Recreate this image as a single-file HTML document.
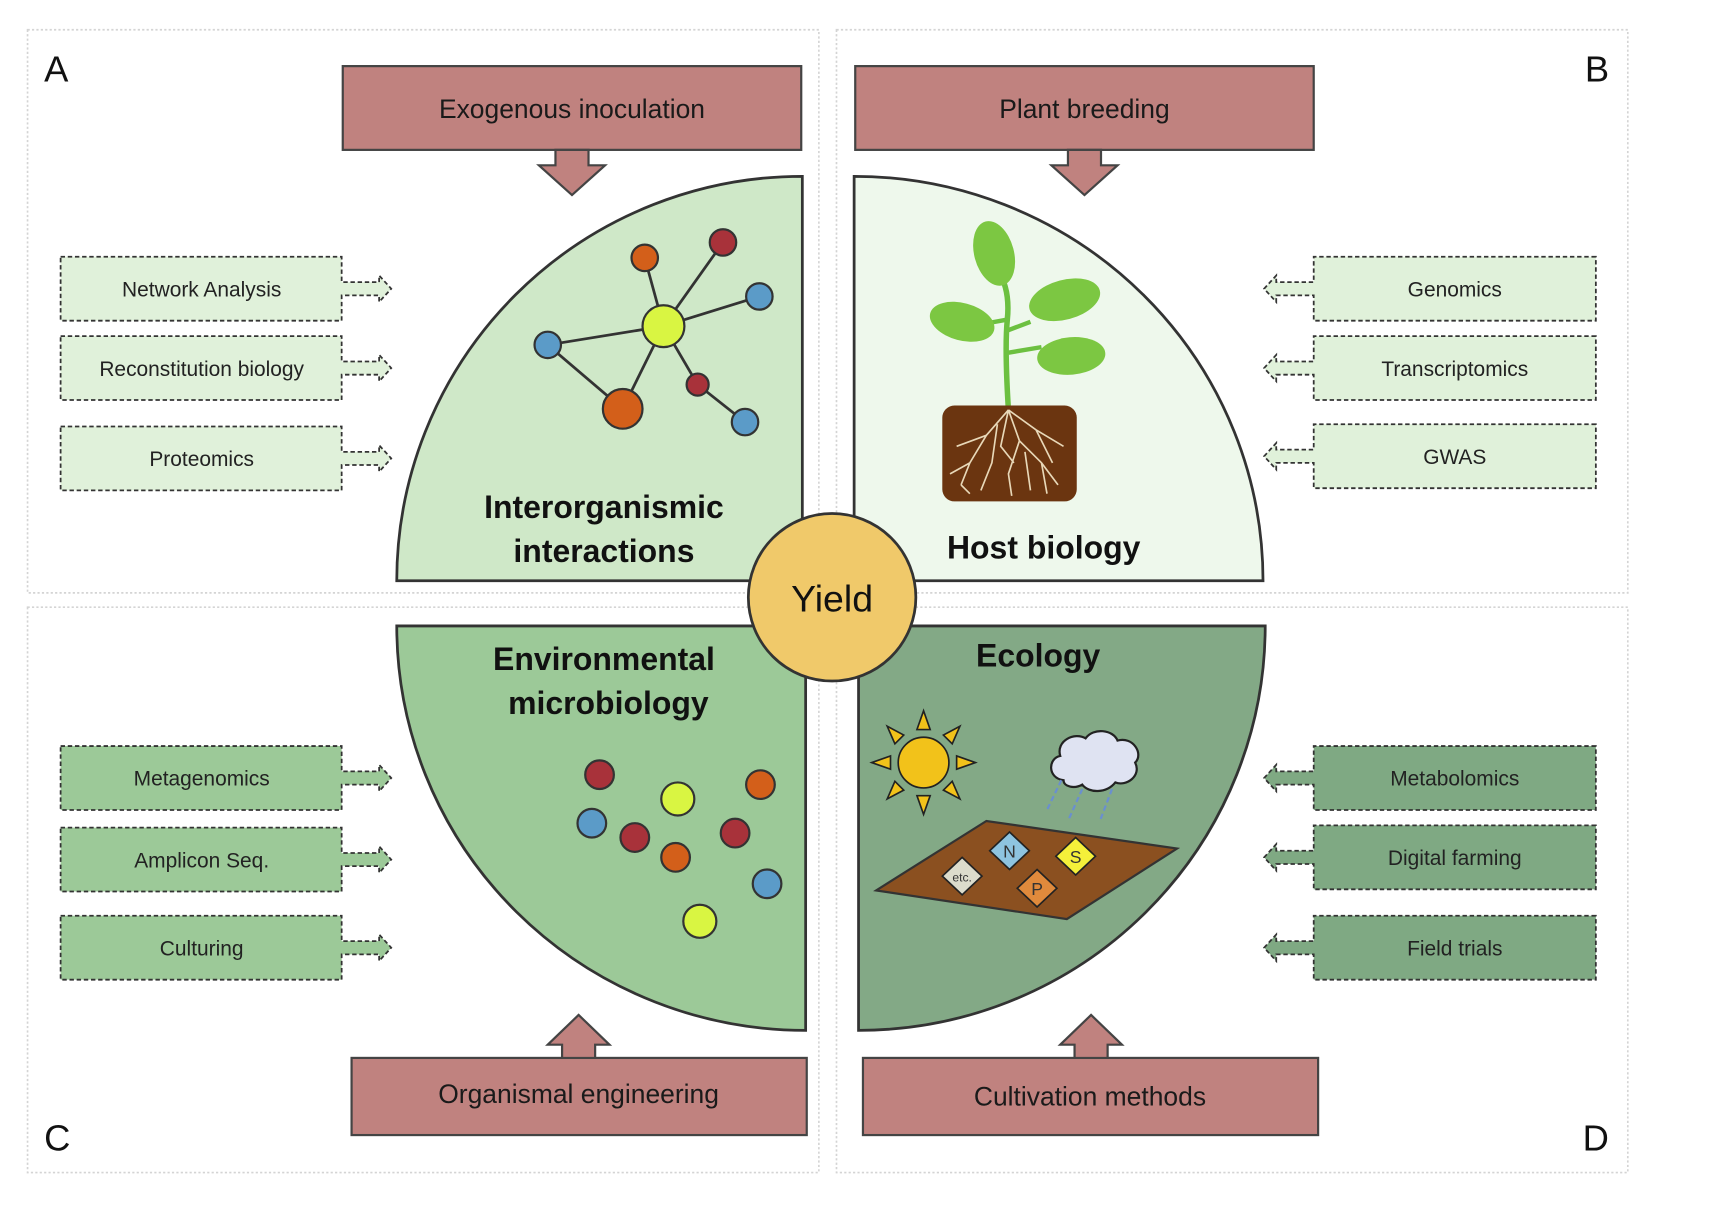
<!DOCTYPE html>
<html><head><meta charset="utf-8"><style>
html,body{margin:0;padding:0;background:#fff;}
svg{display:block;}
text{font-family:"Liberation Sans","DejaVu Sans",sans-serif;}
</style></head><body>
<svg width="1727" height="1210" viewBox="0 0 1567 1098" preserveAspectRatio="none" xmlns="http://www.w3.org/2000/svg">
<rect width="1567" height="1098" fill="#fff"/>
<g fill="none" stroke="#d4d4d4" stroke-width="1.5" stroke-dasharray="2,2">
<rect x="25" y="27" width="718" height="511"/>
<rect x="759" y="27" width="718" height="511"/>
<rect x="25" y="551" width="718" height="513"/>
<rect x="759" y="551" width="718" height="513"/>
</g>
<g font-size="33" fill="#111">
<text x="40" y="74">A</text><text x="1438" y="74">B</text>
<text x="40" y="1044">C</text><text x="1436" y="1044">D</text>
</g>
<g stroke="#333" stroke-width="2.5">
<path d="M728,160 V527 H360 A368,367 0 0 1 728,160 Z" fill="#cfe8c8"/>
<path d="M775,160 V527 H1146 A371,367 0 0 0 775,160 Z" fill="#eef8ec"/>
<path d="M360,568 H731 V935 A371,367 0 0 1 360,568 Z" fill="#9cc998"/>
<path d="M779,568 H1148 A369,367 0 0 1 779,935 Z" fill="#83a986"/>
</g>
<g fill="#c0827f" stroke="#444" stroke-width="2">
<rect x="311" y="60" width="416" height="76"/>
<polygon points="504,136 504,150 489,150 519,177 549,150 534,150 534,136"/>
<rect x="776" y="60" width="416" height="76"/>
<polygon points="969,136 969,150 954,150 984,177 1014,150 999,150 999,136"/>
<rect x="319" y="960" width="413" height="70"/>
<polygon points="510,960 510,948 497,948 525,921 553,948 540,948 540,960"/>
<rect x="783" y="960" width="413" height="70"/>
<polygon points="975,960 975,948 962,948 990,921 1018,948 1005,948 1005,960"/>
</g>
<g font-size="24" fill="#1a1a1a" text-anchor="middle">
<text x="519" y="107">Exogenous inoculation</text>
<text x="984" y="107">Plant breeding</text>
<text x="525" y="1001">Organismal engineering</text>
<text x="989" y="1003">Cultivation methods</text>
</g>
<g stroke="#333" stroke-width="1.6" stroke-dasharray="4,2.5">
<g fill="#e0f1da">
<path d="M55,233 H310 V256 H344 V250 L355,262 L344,274 V268 H310 V291 H55 Z"/>
<path d="M55,305 H310 V328 H344 V322 L355,334 L344,346 V340 H310 V363 H55 Z"/>
<path d="M55,387 H310 V410 H344 V404 L355,416 L344,428 V422 H310 V445 H55 Z"/>
<path d="M1448,233 H1192 V256 H1158 V250 L1147,262 L1158,274 V268 H1192 V291 H1448 Z"/>
<path d="M1448,305 H1192 V328 H1158 V322 L1147,334 L1158,346 V340 H1192 V363 H1448 Z"/>
<path d="M1448,385 H1192 V408 H1158 V402 L1147,414 L1158,426 V420 H1192 V443 H1448 Z"/>
</g>
<g fill="#9cc998">
<path d="M55,677 H310 V700 H344 V694 L355,706 L344,718 V712 H310 V735 H55 Z"/>
<path d="M55,751 H310 V774 H344 V768 L355,780 L344,792 V786 H310 V809 H55 Z"/>
<path d="M55,831 H310 V854 H344 V848 L355,860 L344,872 V866 H310 V889 H55 Z"/>
</g>
<g fill="#7fa983">
<path d="M1448,677 H1192 V700 H1158 V694 L1147,706 L1158,718 V712 H1192 V735 H1448 Z"/>
<path d="M1448,749 H1192 V772 H1158 V766 L1147,778 L1158,790 V784 H1192 V807 H1448 Z"/>
<path d="M1448,831 H1192 V854 H1158 V848 L1147,860 L1158,872 V866 H1192 V889 H1448 Z"/>
</g>
</g>
<g font-size="19" fill="#222" text-anchor="middle">
<text x="183" y="269">Network Analysis</text>
<text x="183" y="341">Reconstitution biology</text>
<text x="183" y="423">Proteomics</text>
<text x="183" y="713">Metagenomics</text>
<text x="183" y="787">Amplicon Seq.</text>
<text x="183" y="867">Culturing</text>
<text x="1320" y="269">Genomics</text>
<text x="1320" y="341">Transcriptomics</text>
<text x="1320" y="421">GWAS</text>
<text x="1320" y="713">Metabolomics</text>
<text x="1320" y="785">Digital farming</text>
<text x="1320" y="867">Field trials</text>
</g>
<g stroke="#333" stroke-width="2.5">
<line x1="602" y1="296" x2="585" y2="234"/><line x1="602" y1="296" x2="656" y2="220"/>
<line x1="602" y1="296" x2="689" y2="269"/><line x1="602" y1="296" x2="497" y2="313"/>
<line x1="602" y1="296" x2="565" y2="371"/><line x1="602" y1="296" x2="633" y2="349"/>
<line x1="497" y1="313" x2="565" y2="371"/><line x1="633" y1="349" x2="676" y2="383"/>
</g>
<g stroke="#333" stroke-width="2">
<circle cx="602" cy="296" r="19" fill="#d9f542"/>
<circle cx="585" cy="234" r="12" fill="#d35f1a"/>
<circle cx="656" cy="220" r="12" fill="#a8323a"/>
<circle cx="689" cy="269" r="12" fill="#5b9bc8"/>
<circle cx="497" cy="313" r="12" fill="#5b9bc8"/>
<circle cx="565" cy="371" r="18" fill="#d35f1a"/>
<circle cx="633" cy="349" r="10" fill="#a8323a"/>
<circle cx="676" cy="383" r="12" fill="#5b9bc8"/>
</g>
<!-- plant -->
<g>
<path d="M915,372 C913,340 912,310 914,290 C916,270 912,255 905,245" stroke="#6cc040" stroke-width="5" fill="none"/>
<path d="M914,300 L935,292 M914,290 L892,294 M915,320 L945,315" stroke="#6cc040" stroke-width="4" fill="none"/>
<ellipse cx="902" cy="230" rx="18" ry="30" transform="rotate(-15 902 230)" fill="#7cc742"/>
<ellipse cx="966" cy="272" rx="33" ry="18" transform="rotate(-15 966 272)" fill="#7cc742"/>
<ellipse cx="873" cy="292" rx="30" ry="17" transform="rotate(15 873 292)" fill="#7cc742"/>
<ellipse cx="972" cy="323" rx="31" ry="17" transform="rotate(-5 972 323)" fill="#7cc742"/>
<rect x="855" y="368" width="122" height="87" rx="11" fill="#6b3510"/>
<g stroke="#e8d8b8" stroke-width="1.5" fill="none">
<path d="M915,372 L895,395 L880,420 L872,440 M895,395 L868,405 M915,372 L925,400 L945,420 L960,440 M925,400 L915,430 L918,450 M915,372 L940,390 L965,405 M905,385 L900,420 L890,445 M930,410 L935,445 M880,420 L862,430 M915,372 L908,405 L920,420 M945,420 L950,448 M872,440 L880,448 M940,390 L955,420"/>
</g>
</g>
<g stroke="#333" stroke-width="2">
<circle cx="544" cy="703" r="13" fill="#a8323a"/>
<circle cx="615" cy="725" r="15" fill="#d9f542"/>
<circle cx="690" cy="712" r="13" fill="#d35f1a"/>
<circle cx="537" cy="747" r="13" fill="#5b9bc8"/>
<circle cx="576" cy="760" r="13" fill="#a8323a"/>
<circle cx="667" cy="756" r="13" fill="#a8323a"/>
<circle cx="613" cy="778" r="13" fill="#d35f1a"/>
<circle cx="696" cy="802" r="13" fill="#5b9bc8"/>
<circle cx="635" cy="836" r="15" fill="#d9f542"/>
</g>
<g stroke="#222" stroke-width="1.5" fill="#f2c21a">
<polygon points="838,645 832,662 844,662"/>
<polygon points="838,739 832,722 844,722"/>
<polygon points="791,692 808,686 808,698"/>
<polygon points="885,692 868,686 868,698"/>
<polygon points="805,659 812,675 820,667"/>
<polygon points="871,659 864,675 856,667"/>
<polygon points="805,725 812,709 820,717"/>
<polygon points="871,725 864,709 856,717"/>
<circle cx="838" cy="692" r="23"/>
</g>
<path d="M965,708 C950,706 951,688 962,686 C958,672 975,664 985,670 C992,660 1010,662 1014,672 C1028,668 1038,684 1030,692 C1036,704 1022,714 1012,710 C1004,720 988,720 982,712 C975,716 965,714 965,708 Z" fill="#dfe3f2" stroke="#222" stroke-width="2"/>
<g stroke="#6a8fd0" stroke-width="2" stroke-dasharray="5,3">
<line x1="963" y1="708" x2="950" y2="735"/>
<line x1="982" y1="716" x2="969" y2="745"/>
<line x1="1009" y1="716" x2="998" y2="745"/>
</g>
<polygon points="795,808 895,745 1068,770 968,834" fill="#8b5020" stroke="#333" stroke-width="2"/>
<g stroke="#222" stroke-width="1.5">
<polygon points="916,755 934,772 916,789 898,772" fill="#8ec4e0"/>
<polygon points="976,760 994,777 976,794 958,777" fill="#f5f03a"/>
<polygon points="941,789 959,806 941,823 923,806" fill="#e08a3c"/>
<polygon points="873,778 891,795 873,812 855,795" fill="#dcdccc"/>
</g>
<g font-size="16" text-anchor="middle" fill="#333">
<text x="916" y="778">N</text><text x="976" y="783">S</text><text x="941" y="812">P</text>
<text x="873" y="800" font-size="11">etc.</text>
</g>
<g font-size="29" font-weight="bold" fill="#111" text-anchor="middle">
<text x="548" y="470">Interorganismic</text>
<text x="548" y="510">interactions</text>
<text x="947" y="507">Host biology</text>
<text x="548" y="608">Environmental</text>
<text x="552" y="648">microbiology</text>
<text x="942" y="605">Ecology</text>
</g>
<circle cx="755" cy="542" r="76" fill="#f0c96a" stroke="#333" stroke-width="2.5"/>
<text x="755" y="555" font-size="34" text-anchor="middle" fill="#111">Yield</text>
</svg>
</body></html>
